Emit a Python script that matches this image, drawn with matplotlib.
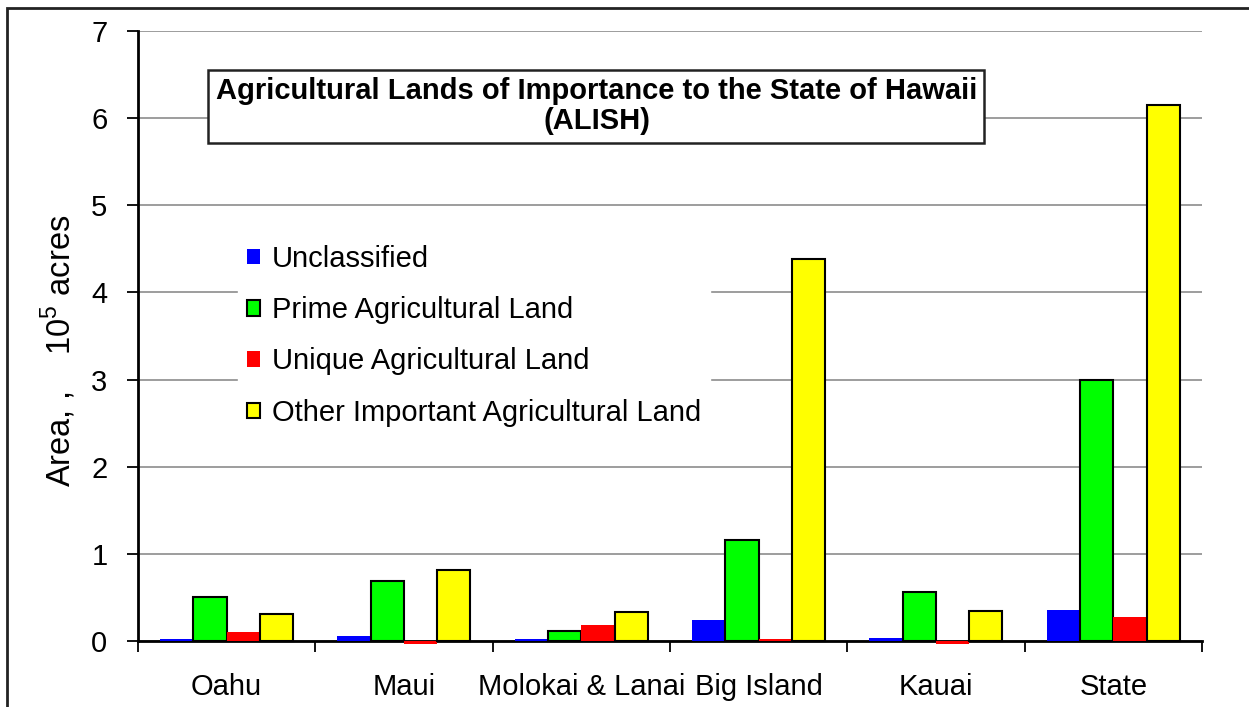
import matplotlib
matplotlib.use("Agg")
import matplotlib.pyplot as plt
import numpy as np
from matplotlib.patches import Rectangle

plt.rcParams['font.family'] = ['Liberation Sans', 'DejaVu Sans']
plt.rcParams['mathtext.fontset'] = 'custom'
plt.rcParams['mathtext.rm'] = 'Liberation Sans'

categories = ["Oahu", "Maui", "Molokai & Lanai", "Big Island", "Kauai", "State"]
series_names = ["Unclassified", "Prime Agricultural Land",
                "Unique Agricultural Land", "Other Important Agricultural Land"]
unclassified = [0.02, 0.06, 0.02, 0.24, 0.04, 0.35]
prime = [0.51, 0.69, 0.12, 1.16, 0.56, 2.99]
unique = [0.10, -0.04, 0.18, 0.02, -0.04, 0.28]
other = [0.31, 0.81, 0.33, 4.38, 0.34, 6.15]
yticks = [0, 1, 2, 3, 4, 5, 6, 7]

W, H = 1249, 707
fig = plt.figure(figsize=(W / 100, H / 100), dpi=100)
ax = fig.add_axes([138 / W, 1 - 641 / H, (1202 - 138) / W, (641 - 31) / H])

colors = ["#0000FF", "#00FF00", "#FF0000", "#FFFF00"]
edges = [None, "black", None, "black"]
data = [unclassified, prime, unique, other]
x = np.arange(len(categories)) + 0.5
bw = 0.1875
handles = []
for i, (vals, c, e) in enumerate(zip(data, colors, edges)):
    off = (i - 1.5) * bw
    if e:
        b = ax.bar(x + off, vals, bw, color=c, edgecolor=e, linewidth=1.5, zorder=3,
                   label=series_names[i])
    else:
        b = ax.bar(x + off, vals, bw, color=c, linewidth=0, zorder=3,
                   label=series_names[i])
    handles.append(b)

ax.set_xlim(0, 6)
ax.set_ylim(-0.0001, 7)
ax.set_yticks(yticks)
ax.set_yticklabels([str(t) for t in yticks], fontsize=21)
ax.set_xticks(np.arange(0, 7))
ax.set_xticklabels([])
ax.set_xticks(x, minor=True)
ax.set_xticklabels(categories, minor=True, fontsize=21)
ax.tick_params(axis='x', which='minor', length=0, pad=23)
ax.tick_params(axis='x', which='major', direction='out', length=8, width=1.3)
ax.tick_params(axis='y', direction='out', length=8, width=1.3, pad=14)

ax.yaxis.grid(True, color='#8c8c8c', linewidth=1.2, zorder=0)
ax.set_axisbelow(True)
for s in ['top', 'right']:
    ax.spines[s].set_visible(False)
for s in ['left', 'bottom']:
    ax.spines[s].set_linewidth(2)
    ax.spines[s].set_color('black')
ax.spines['bottom'].set_zorder(2.5)
for p in ax.patches:
    p.set_clip_on(False)

ax.set_ylabel(r'Area, ,    10$^{\mathrm{5}}$ acres', fontsize=23.5)
ax.yaxis.set_label_coords(-0.056, 0.475)

leg = ax.legend(handles=handles, loc='upper left',
                bbox_to_anchor=(238 / W, 1 - 236 / H), bbox_transform=fig.transFigure,
                fontsize=21, frameon=True, facecolor='white', edgecolor='white',
                framealpha=1, fancybox=False, handlelength=0.45, handleheight=0.45,
                handletextpad=0.4, labelspacing=0.8, borderpad=0.3, borderaxespad=0)
leg.set_zorder(5)

# title box
fig.patches.append(Rectangle((208 / W, 1 - 143 / H), (984 - 208) / W, (143 - 70) / H,
                             transform=fig.transFigure, facecolor='white',
                             edgecolor='#222222', linewidth=1.8, zorder=5))
fig.text(597 / W, 1 - 106 / H,
         "Agricultural Lands of Importance to the State of Hawaii\n(ALISH)",
         ha='center', va='center', multialignment='center', fontsize=21,
         fontweight='bold', linespacing=1.08, zorder=6)

# outer frame
fig.patches.append(Rectangle((7 / W, -0.1), 1.2, 1 - 8 / H + 0.1,
                             transform=fig.transFigure, facecolor='none',
                             edgecolor='#222222', linewidth=2, zorder=0))

fig.savefig("out.png", dpi=100)
